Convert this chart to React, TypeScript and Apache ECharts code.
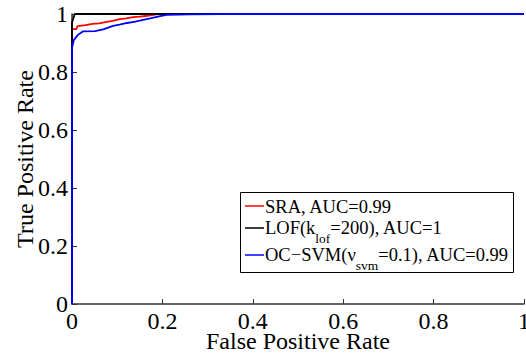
import React, { useEffect, useRef } from "react";
import * as echarts from "echarts";

const xTicks = [0, 0.2, 0.4, 0.6, 0.8, 1];
const yTicks = [0, 0.2, 0.4, 0.6, 0.8, 1];

const sraName = "SRA, AUC=0.99";
const lofName = "LOF(k_lof=200), AUC=1";
const svmName = "OC-SVM(v_svm=0.1), AUC=0.99";

const sraFpr = [0, 0, 0.01, 0.012, 0.03, 0.045, 0.06, 0.077, 0.09, 0.106, 0.12, 0.135, 0.15, 0.166, 0.18, 0.19, 1];
const sraTpr = [0, 0.948, 0.948, 0.958, 0.962, 0.966, 0.968, 0.973, 0.976, 0.982, 0.985, 0.989, 0.991, 0.994, 0.997, 1, 1];

const lofFpr = [0, 0, 0.003, 0.006, 1];
const lofTpr = [0, 0.97, 0.985, 1, 1];

const svmFpr = [0, 0, 0.004, 0.013, 0.024, 0.051, 0.069, 0.08, 0.091, 0.105, 0.122, 0.14, 0.15, 0.173, 0.195, 0.21, 0.26, 0.33, 1];
const svmTpr = [0, 0.883, 0.91, 0.928, 0.94, 0.941, 0.947, 0.953, 0.959, 0.963, 0.969, 0.974, 0.977, 0.985, 0.993, 0.997, 0.999, 1, 1];

const FONT = "Liberation Serif, Times New Roman, serif";

const zip = (xs: number[], ys: number[]) => xs.map((x, i) => [x, ys[i]]);

export default function App() {
  const ref = useRef<HTMLDivElement>(null);
  useEffect(() => {
    if (!ref.current) return;
    const chart = echarts.init(ref.current, undefined, { renderer: "svg" });
    const axisCommon = {
      type: "value" as const,
      min: 0,
      max: 1,
      interval: 0.2,
      axisLine: { show: true, lineStyle: { color: "#333", width: 1.5 } },
      axisTick: { show: true, inside: true, length: 5, lineStyle: { color: "#333" } },
      splitLine: { show: false },
      nameLocation: "middle" as const,
      nameMoveOverlap: false,
      nameTextStyle: { fontFamily: FONT, fontSize: 24, lineHeight: 20, color: "#000" },
    };
    const rich = {
      a: { fontFamily: FONT, fontSize: 18.5, lineHeight: 20, verticalAlign: "top", color: "#000" },
      b: { fontFamily: FONT, fontSize: 13.5, lineHeight: 14, padding: [13, 0, 0, 0], verticalAlign: "top", color: "#000" },
    };
    chart.setOption({
      animation: false,
      textStyle: { fontFamily: FONT },
      grid: { left: 72, top: 14, right: 2, bottom: 52, outerBoundsMode: "none", containLabel: false },
      xAxis: {
        ...axisCommon,
        name: "False Positive Rate",
        nameGap: 27,
        axisLabel: {
          fontFamily: FONT,
          fontSize: 24,
          lineHeight: 20,
          color: "#000",
          margin: 7,
          customValues: xTicks,
        },
      },
      yAxis: {
        ...axisCommon,
        name: "True Positive Rate",
        nameGap: 35,
        nameTextStyle: { fontFamily: FONT, fontSize: 24, color: "#000" },
        axisLabel: {
          fontFamily: FONT,
          fontSize: 24,
          color: "#000",
          margin: 4,
          customValues: yTicks,
        },
      },
      series: [
        { name: sraName, type: "line", data: zip(sraFpr, sraTpr), symbol: "none", lineStyle: { color: "#ff0000", width: 1.8 } },
        { name: lofName, type: "line", data: zip(lofFpr, lofTpr), symbol: "none", lineStyle: { color: "#000000", width: 1.8 } },
        { name: svmName, type: "line", data: zip(svmFpr, svmTpr), symbol: "none", lineStyle: { color: "#0000ff", width: 1.8 } },
      ],
      graphic: [
        {
          type: "rect",
          z: 100,
          shape: { x: 240.5, y: 192.5, width: 273, height: 80 },
          style: { fill: "#fff", stroke: "#000", lineWidth: 1 },
        },
        { type: "line", z: 101, shape: { x1: 245, y1: 206, x2: 264, y2: 206 }, style: { stroke: "#ff0000", lineWidth: 1.5 } },
        { type: "line", z: 101, shape: { x1: 245, y1: 228, x2: 264, y2: 228 }, style: { stroke: "#000", lineWidth: 1.5 } },
        { type: "line", z: 101, shape: { x1: 245, y1: 255, x2: 264, y2: 255 }, style: { stroke: "#0000ff", lineWidth: 1.5 } },
        {
          type: "text",
          z: 101,
          style: { text: "{a|SRA, AUC=0.99}", x: 265, y: 197, verticalAlign: "top", rich },
        },
        {
          type: "text",
          z: 101,
          style: {
            text: "{a|LOF(k}{b|lof}{a|=200), AUC=1}",
            x: 265,
            y: 218,
            verticalAlign: "top",
            rich,
          },
        },
        {
          type: "text",
          z: 101,
          style: {
            text: "{a|OC\u2212SVM(\u03bd}{b|svm}{a|=0.1), AUC=0.99}",
            x: 265,
            y: 245,
            verticalAlign: "top",
            rich,
          },
        },
      ],
    });
    return () => chart.dispose();
  }, []);
  return <div ref={ref} style={{ width: 526, height: 356, position: "absolute", left: 0, top: 0 }} />;
}
